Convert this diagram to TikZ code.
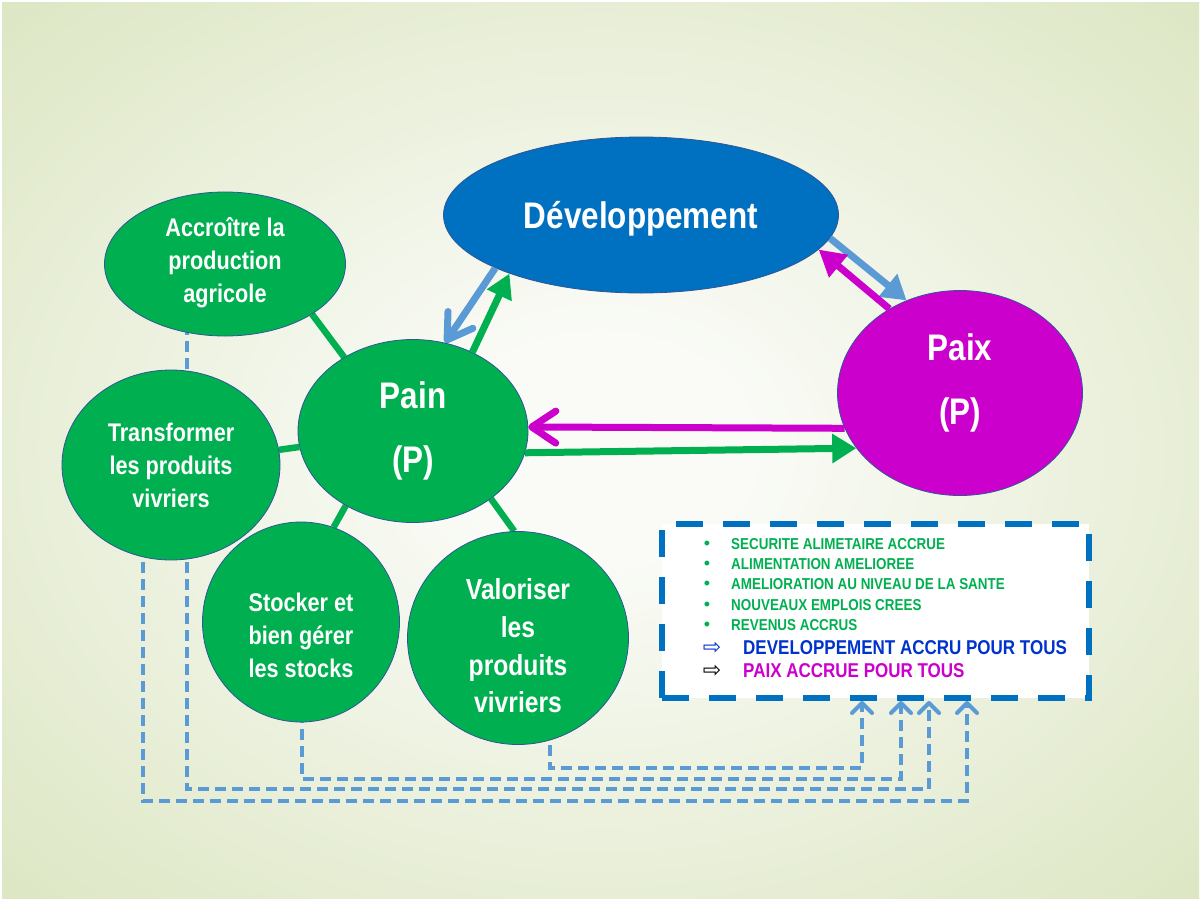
\documentclass[tikz,border=0pt]{standalone}
\usepackage{fontspec}
\setmainfont{Liberation Sans}
\newfontfamily\narrowf{Liberation Sans}[FakeStretch=0.85]
\newfontfamily\symf{DejaVu Sans}
\usetikzlibrary{shapes.geometric,arrows.meta,calc}
\pgfdeclarelayer{bg}
\pgfsetlayers{bg,main}
\definecolor{pgreen}{HTML}{00B050}
\definecolor{dblue}{HTML}{0070C0}
\definecolor{lblue}{HTML}{5B9BD5}
\definecolor{pmag}{HTML}{CC00CC}
\definecolor{tblue}{HTML}{0033CC}
\definecolor{edgec}{HTML}{2F5597}
\definecolor{bgout}{HTML}{DCE6C2}
\definecolor{bgin}{HTML}{FAFBF7}
\pgfdeclareradialshading{bgshade}{\pgfpoint{0bp}{0bp}}{color(0bp)=(bgin); color(6bp)=(bgin); color(36bp)=(bgout); color(50bp)=(bgout)}
\begin{document}
\begin{tikzpicture}[x=1pt,y=-1pt,
  bubble/.style={ellipse, draw=edgec, line width=0.8pt, fill=pgreen, inner sep=0pt},
  btext/.style={text=white, align=center, inner sep=0pt, font=\narrowf\bfseries\fontsize{25.5}{33}\selectfont},
  bigtext/.style={text=white, align=center, inner sep=0pt, font=\narrowf\bfseries\fontsize{37}{64}\selectfont},
  link/.style={pgreen, line width=6.5pt},
  dlink/.style={lblue, line width=4pt, dash pattern=on 11pt off 6pt, -{Straight Barb[length=10pt,width=20pt,round]}},
  bigarrow/.style={line width=7pt},
  boxline/.style={anchor=base west, inner sep=0pt, text=pgreen, font=\narrowf\bfseries\fontsize{15.8}{19}\selectfont},
  bigline/.style={anchor=base west, inner sep=0pt, font=\narrowf\bfseries\fontsize{20}{24}\selectfont},
  bul/.style={inner sep=0pt, text=pgreen, font=\fontsize{18}{19}\selectfont},
  arr/.style={inner sep=0pt, font=\symf\fontsize{22}{22}\selectfont}
]
\useasboundingbox (0,0) rectangle (1201,900);
\begin{pgfonlayer}{bg}
  \fill[white] (0,0) rectangle (1201,900);
  \shade[shading=bgshade] (2,2) rectangle (1199,898);
\end{pgfonlayer}

% main ellipses
\node[bubble, fill=dblue, minimum width=395pt, minimum height=156pt, text=white,
      text height=30pt, text depth=3.4pt,
      font=\narrowf\bfseries\fontsize{37}{44}\selectfont] (dev) at (641,215) {Développement};
\node[bubble, fill=pmag, minimum width=245pt, minimum height=205pt] (paix) at (960,393) {};
\node[bubble, minimum width=230pt, minimum height=183pt] (pain) at (413,431) {};
\node[bubble, minimum width=241pt, minimum height=144pt] (acc) at (225,264) {};
\node[bubble, minimum width=218pt, minimum height=190pt] (trans) at (171,465) {};
\node[bubble, minimum width=197pt, minimum height=200pt] (stock) at (301,622) {};
\node[bubble, minimum width=221pt, minimum height=213pt] (valo) at (518,638) {};

% texts
\node[bigtext] (paixT) at (960,383) {Paix\\(P)};
\node[bigtext] (painT) at (413,431) {Pain\\(P)};
\node[btext] (accT) at (225,263) {Accroître la\\production\\agricole};
\node[btext] (transT) at (171,465) {Transformer\\les produits\\vivriers};
\node[btext] (stockT) at (301,635) {Stocker et\\bien gérer\\les stocks};
\node[btext, font=\narrowf\bfseries\fontsize{29}{37.7}\selectfont] (valoT) at (518,646) {Valoriser\\les\\produits\\vivriers};

% links from Pain
\begin{pgfonlayer}{bg}
  \draw[link] (pain.133) -- (acc.-30);
  \draw[link] (pain.188) -- (trans.8);
  \draw[link] (pain.228) -- (stock.71);
  \draw[link] (pain.-41) -- (valo.92);
  % dashed connectors to the result box
  \coordinate (t1) at (862,701);
  \coordinate (t2) at (901,701);
  \coordinate (t3) at (929,701);
  \coordinate (t4) at (967,701);
  \draw[dlink] ($(valo.center)+(32,90)$) -- (550,768) -- (862,768) -- (t1);
  \draw[dlink] ($(stock.center)+(1,90)$) -- (302,779) -- (901,779) -- (t2);
  \draw[dlink] ($(acc.center)+(-38,60)$) -- (187,789) -- (929,789) -- (t3);
  \draw[dlink] ($(trans.center)+(-28,80)$) -- (143,801) -- (967,801) -- (t4);
\end{pgfonlayer}

% big arrows
\draw[bigarrow, lblue, -{Straight Barb[length=24pt,width=30pt,round]}] (dev.200) -- (pain.70);
\draw[bigarrow, pgreen, -{Triangle[length=24pt,width=26pt]}] (pain.53) -- (dev.204);
\draw[bigarrow, lblue, -{Triangle[length=24pt,width=28pt]}] (dev.-7) -- (paix.120);
\draw[bigarrow, pmag, -{Triangle[length=26pt,width=28pt]}] (paix.130) -- (dev.-11);
\draw[bigarrow, pmag, -{Straight Barb[length=24pt,width=32pt,round]}] (paix.197) -- (pain.2.5);
\draw[bigarrow, pgreen, -{Triangle[length=24pt,width=28pt]}] (pain.-11) -- (paix.208);

% result box
\node[draw=dblue, line width=6pt, dash pattern=on 27pt off 20pt, fill=white,
      minimum width=427pt, minimum height=174pt, inner sep=0pt] (box) at (875.5,611) {};
\node[bul] (b1) at (707,545) {\textbullet};
\node[bul] (b2) at (707,565) {\textbullet};
\node[bul] (b3) at (707,585) {\textbullet};
\node[bul] (b4) at (707,606) {\textbullet};
\node[bul] (b5) at (707,626) {\textbullet};
\node[boxline] (l1) at (731,549) {SECURITE ALIMETAIRE ACCRUE};
\node[boxline] (l2) at (731,569) {ALIMENTATION AMELIOREE};
\node[boxline] (l3) at (731,589) {AMELIORATION AU NIVEAU DE LA SANTE};
\node[boxline] (l4) at (731,610) {NOUVEAUX EMPLOIS CREES};
\node[boxline] (l5) at (731,630) {REVENUS ACCRUS};
\node[arr, text=tblue] (a1) at (712,648) {⇨};
\node[arr, text=black] (a2) at (712,671) {⇨};
\node[bigline, text=tblue] (l6) at (743,654) {DEVELOPPEMENT ACCRU POUR TOUS};
\node[bigline, text=pmag] (l7) at (743,677) {PAIX ACCRUE POUR TOUS};
\end{tikzpicture}
\end{document}
